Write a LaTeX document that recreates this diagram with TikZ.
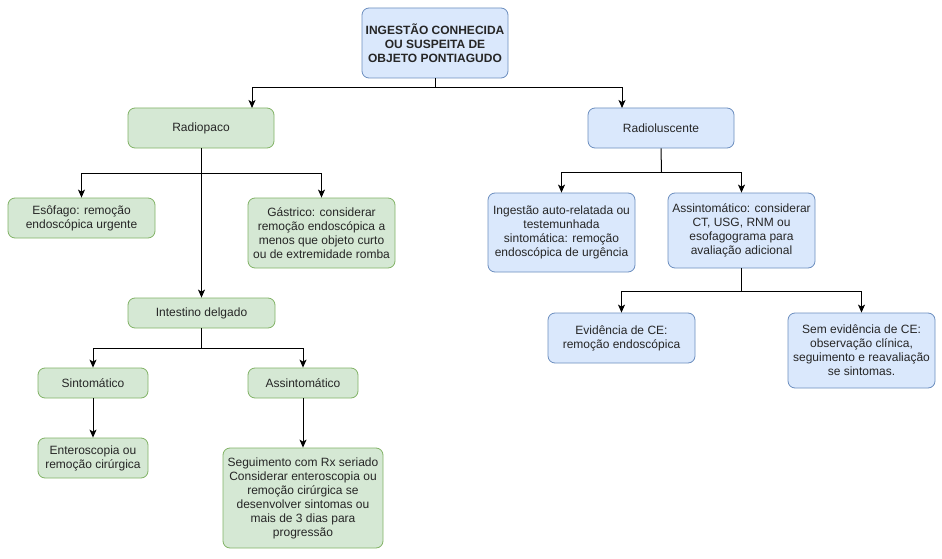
\documentclass[tikz,border=0pt]{standalone}
\usepackage{fontspec}
\setmainfont{Liberation Sans}
\usetikzlibrary{arrows.meta}
\definecolor{gfill}{HTML}{D5E8D4}
\definecolor{gline}{HTML}{82B366}
\definecolor{bfill}{HTML}{DAE8FC}
\definecolor{bline}{HTML}{6C8EBF}
\begin{document}
\begin{tikzpicture}[x=1pt,y=-1pt,
  box/.style={rectangle, rounded corners=7pt, draw, line width=0.8pt, align=center, inner sep=0pt,
    font=\fontsize{12}{14}\selectfont, text=black!85},
  gbox/.style={box, fill=gfill, draw=gline},
  bbox/.style={box, fill=bfill, draw=bline},
  arr/.style={draw=black, line width=1pt, -{Stealth[length=8pt,width=7pt,inset=2pt]}},
  ln/.style={draw=black, line width=1pt}]
\useasboundingbox (0,0) rectangle (942,559);
\fill[white] (0,0) rectangle (942,559);

\node[bbox, minimum width=146pt, minimum height=70pt, font=\bfseries\fontsize{12}{14}\selectfont] (top) at (435,43) {INGESTÃO CONHECIDA\\OU SUSPEITA DE\\OBJETO PONTIAGUDO};
\node[gbox, minimum width=146pt, minimum height=40pt] (ropaco) at (201,128) {Radiopaco};
\node[bbox, minimum width=146pt, minimum height=40pt] (rlusc) at (661,128) {Radioluscente};
\node[gbox, minimum width=147pt, minimum height=40pt] (esof) at (81.5,218) {Esôfago: remoção\\endoscópica urgente};
\node[gbox, minimum width=147pt, minimum height=70pt] (gastr) at (321.5,233) {Gástrico: considerar\\remoção endoscópica a\\menos que objeto curto\\ou de extremidade romba};
\node[bbox, minimum width=147pt, minimum height=79pt] (ingest) at (561.5,232.5) {Ingestão auto-relatada ou\\testemunhada\\sintomática: remoção\\endoscópica de urgência};
\node[bbox, minimum width=147pt, minimum height=75pt] (assr) at (741.5,230.5) {Assintomático: considerar\\CT, USG, RNM ou\\esofagograma para\\avaliação adicional};
\node[bbox, minimum width=147pt, minimum height=50pt] (evid) at (621.5,338) {Evidência de CE:\\remoção endoscópica};
\node[bbox, minimum width=147pt, minimum height=75pt] (sem) at (861.5,350.5) {Sem evidência de CE:\\observação clínica,\\seguimento e reavaliação\\se sintomas.};
\node[gbox, minimum width=147pt, minimum height=30pt] (intest) at (201.5,313) {Intestino delgado};
\node[gbox, minimum width=110pt, minimum height=30pt] (sint) at (93,383) {Sintomático};
\node[gbox, minimum width=110pt, minimum height=30pt] (assl) at (303,383) {Assintomático};
\node[gbox, minimum width=110pt, minimum height=40pt] (entero) at (93,458) {Enteroscopia ou\\remoção cirúrgica};
\node[gbox, minimum width=160pt, minimum height=100pt] (segui) at (303,498) {Seguimento com Rx seriado\\Considerar enteroscopia ou\\remoção cirúrgica se\\desenvolver sintomas ou\\mais de 3 dias para\\progressão};

\coordinate (j1) at (435,88);
\coordinate (ropin) at (252,108);
\coordinate (rlin) at (622,108);
\draw[ln] (top.south) -- (j1);
\draw[arr] (j1) -| (ropin);
\draw[arr] (j1) -| (rlin);

\coordinate (j2) at (201.5,173);
\draw[arr] (ropaco.south -| j2) -- (intest.north);
\draw[arr] (j2) -| (esof.north);
\draw[arr] (j2) -| (gastr.north);

\coordinate (j3) at (661.5,172);
\draw[ln] (rlusc.south) -- (j3);
\draw[arr] (j3) -| (ingest.north);
\draw[arr] (j3) -| (assr.north);

\coordinate (j4) at (741.5,291);
\draw[ln] (assr.south) -- (j4);
\draw[arr] (j4) -| (evid.north);
\draw[arr] (j4) -| (sem.north);

\coordinate (j5) at (201.5,348);
\draw[ln] (intest.south) -- (j5);
\draw[arr] (j5) -| (sint.north);
\draw[arr] (j5) -| (assl.north);

\draw[arr] (sint.south) -- (entero.north);
\draw[arr] (assl.south) -- (segui.north);
\end{tikzpicture}
\end{document}
